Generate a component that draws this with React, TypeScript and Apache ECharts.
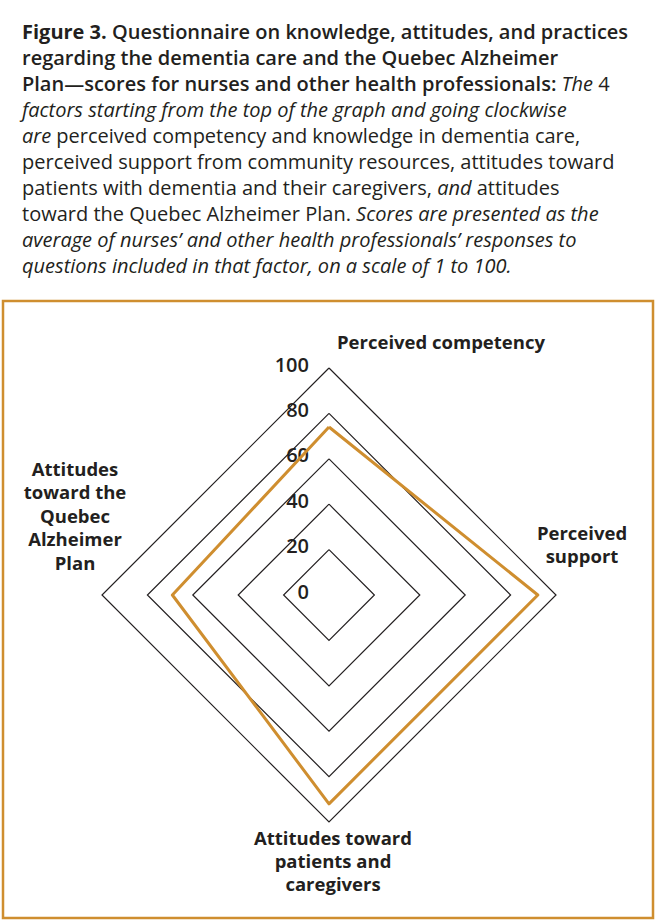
import React, { useEffect, useRef } from "react";
import * as echarts from "echarts";

// ---- data ----
const indicatorNames = [
  "Perceived competency",
  "Attitudes\ntoward the\nQuebec\nAlzheimer\nPlan",
  "Attitudes toward\npatients and\ncaregivers",
  "Perceived\nsupport",
];
const scores = [74, 69, 92, 92];
const scaleMax = 100;
const scaleSplits = 5;

const titleLines = [
  "{b|Figure 3.}{s| Questionnaire on knowledge, attitudes, and practices}",
  "{s|regarding the dementia care and the Quebec Alzheimer}",
  "{s|Plan\u2014scores for nurses and other health professionals:}{i| The}{r| 4}",
  "{i|factors starting from the top of the graph and going clockwise}",
  "{i|are}{r| perceived competency and knowledge in dementia care,}",
  "{r|perceived support from community resources, attitudes toward}",
  "{r|patients with dementia and their caregivers, }{i|and}{r| attitudes}",
  "{r|toward the Quebec Alzheimer Plan.}{i| Scores are presented as the}",
  "{i|average of nurses\u2019 and other health professionals\u2019 responses to}",
  "{i|questions included in that factor, on a scale of 1 to 100.}",
];

const INK = "#231f20";
const GOLD = "#cf8e2f";
const FONT = "Open Sans";

export default function App() {
  const ref = useRef<HTMLDivElement>(null);
  useEffect(() => {
    if (!ref.current) return;
    const chart = echarts.init(ref.current, undefined, { renderer: "svg" });
    const base = { fontFamily: FONT, fontSize: 20, lineHeight: 26, color: INK };
    const nameBase = {
      color: INK,
      fontFamily: FONT,
      fontSize: 18.5,
      fontWeight: "bold" as const,
      lineHeight: 23.5,
    };
    const indicatorStyles = [
      { nameGap: 15, nameTextStyle: { ...nameBase, align: "left", verticalAlign: "bottom", padding: [0, 0, 0, 8] } },
      { nameGap: 27, nameTextStyle: { ...nameBase, align: "center", verticalAlign: "bottom", padding: [0, 0, 21, 0] } },
      { nameGap: 4, nameTextStyle: { ...nameBase, lineHeight: 23, align: "center", verticalAlign: "top", padding: [0, 0, 0, 8] } },
      { nameGap: 26, nameTextStyle: { ...nameBase, lineHeight: 23, align: "center", verticalAlign: "bottom", padding: [0, 0, 28, 0] } },
    ];
    const tickStyle = {
      color: INK,
      fontFamily: FONT,
      fontSize: 20,
      fontWeight: 600,
      padding: [0, 0, 8, 0],
    };
    chart.setOption({
      animation: false,
      title: {
        text: titleLines.join("\n"),
        left: 17,
        top: 13,
        textStyle: {
          ...base,
          rich: {
            b: { ...base, fontWeight: 700 },
            s: { ...base, fontWeight: 600 },
            i: { ...base, fontStyle: "italic", fontWeight: 400 },
            r: { ...base, fontWeight: 400 },
          },
        },
      },
      graphic: [
        {
          type: "rect",
          shape: { x: 3, y: 301, width: 650, height: 617 },
          style: { fill: "none", stroke: GOLD, lineWidth: 2.5 },
          silent: true,
        },
      ],
      radar: {
        center: [329, 595],
        radius: 227,
        shape: "polygon",
        splitNumber: scaleSplits,
        startAngle: 90,
        axisLine: { show: false },
        axisTick: { show: false },
        splitArea: { show: false },
        splitLine: { lineStyle: { color: INK, width: 1.2 } },
        axisName: { ...nameBase },
        indicator: indicatorNames.map((name, i) => ({
          name,
          min: 0,
          max: scaleMax,
          ...indicatorStyles[i],
          ...(i === 0
            ? {
                axisLabel: {
                  show: true,
                  margin: 20,
                  formatter: "{t|{value}}",
                  rich: { t: tickStyle },
                  color: INK,
                  fontFamily: FONT,
                  fontSize: 20,
                  fontWeight: 600,
                },
              }
            : {}),
        })),
      },
      series: [
        {
          type: "radar",
          symbol: "none",
          lineStyle: { color: GOLD, width: 3 },
          itemStyle: { color: GOLD },
          data: [{ value: scores, name: "Score" }],
        },
      ],
    });
    return () => chart.dispose();
  }, []);
  return (
    <div
      ref={ref}
      style={{ position: "absolute", left: 0, top: 0, width: 657, height: 922, background: "#fff" }}
    />
  );
}
